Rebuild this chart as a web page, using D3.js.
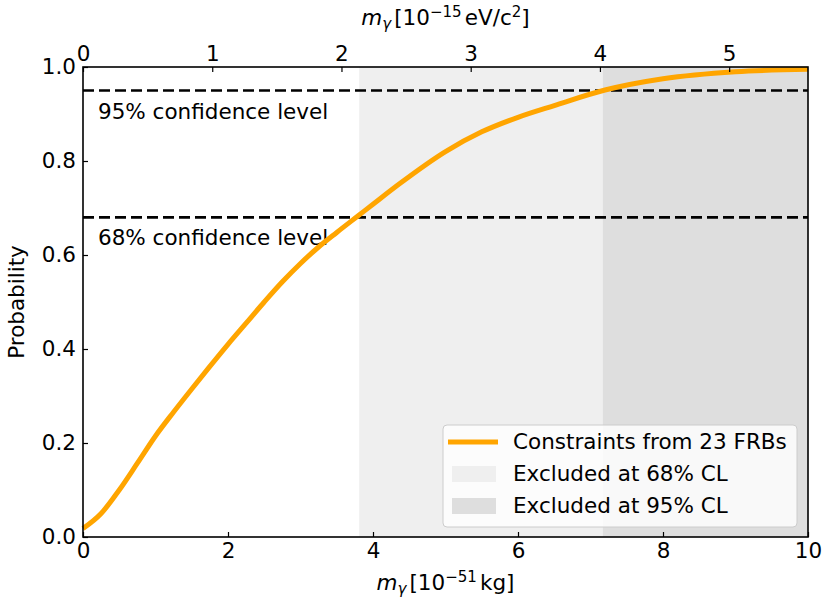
<!DOCTYPE html>
<html>
<head>
<meta charset="utf-8">
<script src="https://cdn.jsdelivr.net/npm/d3@7"></script>
<style>
  body { margin: 0; background: #fff; }
  svg text { font-family: "DejaVu Sans", sans-serif; fill: #000; }
</style>
</head>
<body>
<svg id="chart" width="823" height="601"></svg>
<script>
// cumulative probability of the photon mass
const massKg = [0, 0.25, 0.5, 0.75, 1, 1.25, 1.5, 1.75, 2, 2.25, 2.5, 2.75, 3, 3.25, 3.5, 3.8, 4.0, 4.37, 5.0, 5.5, 6.0, 6.5, 7.2, 8.0, 9.0, 10];
const probability = [0.018, 0.05, 0.1, 0.157, 0.215, 0.266, 0.315, 0.363, 0.41, 0.455, 0.5, 0.543, 0.582, 0.617, 0.648, 0.684, 0.708, 0.752, 0.82, 0.862, 0.893, 0.918, 0.951, 0.975, 0.99, 0.995];

const confLevels = [0.95, 0.68];
const confLabels = ["95% confidence level", "68% confidence level"];
const excluded68 = [3.81, 7.17];
const excluded95 = [7.17, 10];

const xTicks = [0, 2, 4, 6, 8, 10];
const yTicks = [0, 0.2, 0.4, 0.6, 0.8, 1.0];
const topTicks = [0, 1, 2, 3, 4, 5];
const kgToEv = 0.561; // 1e-51 kg -> 1e-15 eV/c^2

const legendLabels = ["Constraints from 23 FRBs", "Excluded at 68% CL", "Excluded at 95% CL"];

const W = 823, H = 601;
const margin = {top: 67, right: 15, bottom: 64, left: 83};
const svg = d3.select("#chart");

const x = d3.scaleLinear().domain([0, 10]).range([margin.left, W - margin.right]);
const xTop = d3.scaleLinear().domain([0, 10 * kgToEv]).range([margin.left, W - margin.right]);
const y = d3.scaleLinear().domain([0, 1]).range([H - margin.bottom, margin.top]);

const fontSize = 21.5;
const light = "#efefef", dark = "#dedede";

// shaded regions
svg.append("rect")
    .attr("x", x(excluded68[0])).attr("y", y(1))
    .attr("width", x(excluded68[1]) - x(excluded68[0]))
    .attr("height", y(0) - y(1))
    .attr("fill", light);
svg.append("rect")
    .attr("x", x(excluded95[0])).attr("y", y(1))
    .attr("width", x(excluded95[1]) - x(excluded95[0]))
    .attr("height", y(0) - y(1))
    .attr("fill", dark);

// confidence lines
confLevels.forEach((c, i) => {
    svg.append("line")
        .attr("x1", x(0)).attr("x2", x(10))
        .attr("y1", y(c)).attr("y2", y(c))
        .attr("stroke", "#000").attr("stroke-width", 2.6)
        .attr("stroke-dasharray", "11,5");
    svg.append("text")
        .attr("x", x(0) + 15).attr("y", y(c) + 28)
        .attr("font-size", fontSize)
        .text(confLabels[i]);
});

// curve
const line = d3.line().x((d, i) => x(massKg[i])).y(d => y(d)).curve(d3.curveMonotoneX);
svg.append("path")
    .datum(probability)
    .attr("d", line)
    .attr("fill", "none")
    .attr("stroke", "orange")
    .attr("stroke-width", 5);

// axes
const styleAxis = g => {
    g.select(".domain").remove();
    g.selectAll(".tick line").attr("stroke", "#000").attr("stroke-width", 1.2);
    g.selectAll(".tick text").attr("font-size", fontSize).attr("font-family", "DejaVu Sans");
};

svg.append("g")
    .attr("transform", "translate(0," + y(0) + ")")
    .call(d3.axisBottom(x).tickValues(xTicks).tickFormat(d3.format("d")).tickSizeInner(-5).tickPadding(6))
    .call(styleAxis);

svg.append("g")
    .attr("transform", "translate(0," + y(1) + ")")
    .call(d3.axisTop(xTop).tickValues(topTicks).tickFormat(d3.format("d")).tickSizeInner(-5).tickPadding(6))
    .call(styleAxis);

svg.append("g")
    .attr("transform", "translate(" + x(0) + ",0)")
    .call(d3.axisLeft(y).tickValues(yTicks).tickFormat(d3.format(".1f")).tickSizeInner(-5).tickPadding(7))
    .call(styleAxis);

// frame
svg.append("rect")
    .attr("x", x(0)).attr("y", y(1))
    .attr("width", x(10) - x(0)).attr("height", y(0) - y(1))
    .attr("fill", "none").attr("stroke", "#000").attr("stroke-width", 1.6);

// axis labels
const massLabel = (sel, exp, unit) => {
    sel.append("tspan").attr("font-style", "italic").text("m");
    sel.append("tspan").attr("font-style", "italic").attr("font-size", fontSize * 0.7).attr("dy", 4).text("γ");
    sel.append("tspan").attr("dy", -4).attr("dx", 3).text("[10");
    sel.append("tspan").attr("font-size", fontSize * 0.7).attr("dy", -8).text("−" + exp);
    sel.append("tspan").attr("dy", 8).attr("dx", 3).text(unit);
};

svg.append("text")
    .attr("x", x(5)).attr("y", H - 11)
    .attr("text-anchor", "middle").attr("font-size", fontSize)
    .call(massLabel, "51", "kg]");

const topLabel = svg.append("text")
    .attr("x", x(5)).attr("y", 25)
    .attr("text-anchor", "middle").attr("font-size", fontSize)
    .call(massLabel, "15", "eV/c");
topLabel.append("tspan").attr("font-size", fontSize * 0.7).attr("dy", -8).text("2");
topLabel.append("tspan").attr("dy", 8).text("]");

svg.append("text")
    .attr("transform", "translate(24," + y(0.5) + ") rotate(-90)")
    .attr("text-anchor", "middle").attr("font-size", fontSize)
    .text("Probability");

// legend
const lg = svg.append("g").attr("transform", "translate(443,425)");
lg.append("rect")
    .attr("width", 354).attr("height", 102).attr("rx", 4)
    .attr("fill", "#fff").attr("fill-opacity", 0.8)
    .attr("stroke", "#ccc").attr("stroke-width", 1);
legendLabels.forEach((lab, i) => {
    const cy = 17 + i * 32;
    if (i === 0) {
        lg.append("line").attr("x1", 5).attr("x2", 55).attr("y1", cy).attr("y2", cy)
            .attr("stroke", "orange").attr("stroke-width", 5);
    } else {
        lg.append("rect").attr("x", 9).attr("y", cy - 8).attr("width", 44).attr("height", 16)
            .attr("fill", i === 1 ? light : dark);
    }
    lg.append("text").attr("x", 70).attr("y", cy + 7).attr("font-size", fontSize).text(lab);
});
</script>
</body>
</html>
